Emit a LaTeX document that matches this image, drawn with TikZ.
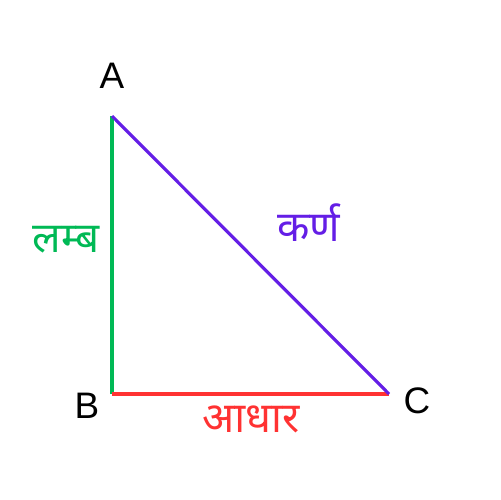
\documentclass[tikz,border=0pt]{standalone}
\usepackage{fontspec}
\setmainfont{Liberation Sans}
\newfontfamily\devfont[Script=Devanagari]{Noto Sans}
\definecolor{lambgreen}{RGB}{0,185,85}
\definecolor{karnpurple}{RGB}{100,30,230}
\definecolor{adharred}{RGB}{255,50,50}
\begin{document}
\begin{tikzpicture}[x=0.02cm, y=-0.02cm, font=\fontsize{21}{24}\selectfont]

\useasboundingbox (0,0) rectangle (500,500);

\coordinate (A) at (112,116);
\coordinate (B) at (112,394);
\coordinate (C) at (389,394);

\node (labelA) at (112,76) {A};
\node (labelB) at (87,406) {B};
\node (labelC) at (417,401) {C};

\node (lamb) [text=lambgreen] at (66,240) {\devfont\fontsize{24}{28}\selectfont लम्ब};
\node (karn) [text=karnpurple] at (309,223) {\devfont\fontsize{24}{28}\selectfont कर्ण};
\node (adhar) [text=adharred] at (251,419) {\devfont\fontsize{24}{28}\selectfont आधार};

\draw[lambgreen, line width=1.8pt] (A) -- (B);
\draw[adharred, line width=1.8pt] (B) -- (C);
\draw[karnpurple, line width=1.8pt] (A) -- (C);

\end{tikzpicture}
\end{document}
